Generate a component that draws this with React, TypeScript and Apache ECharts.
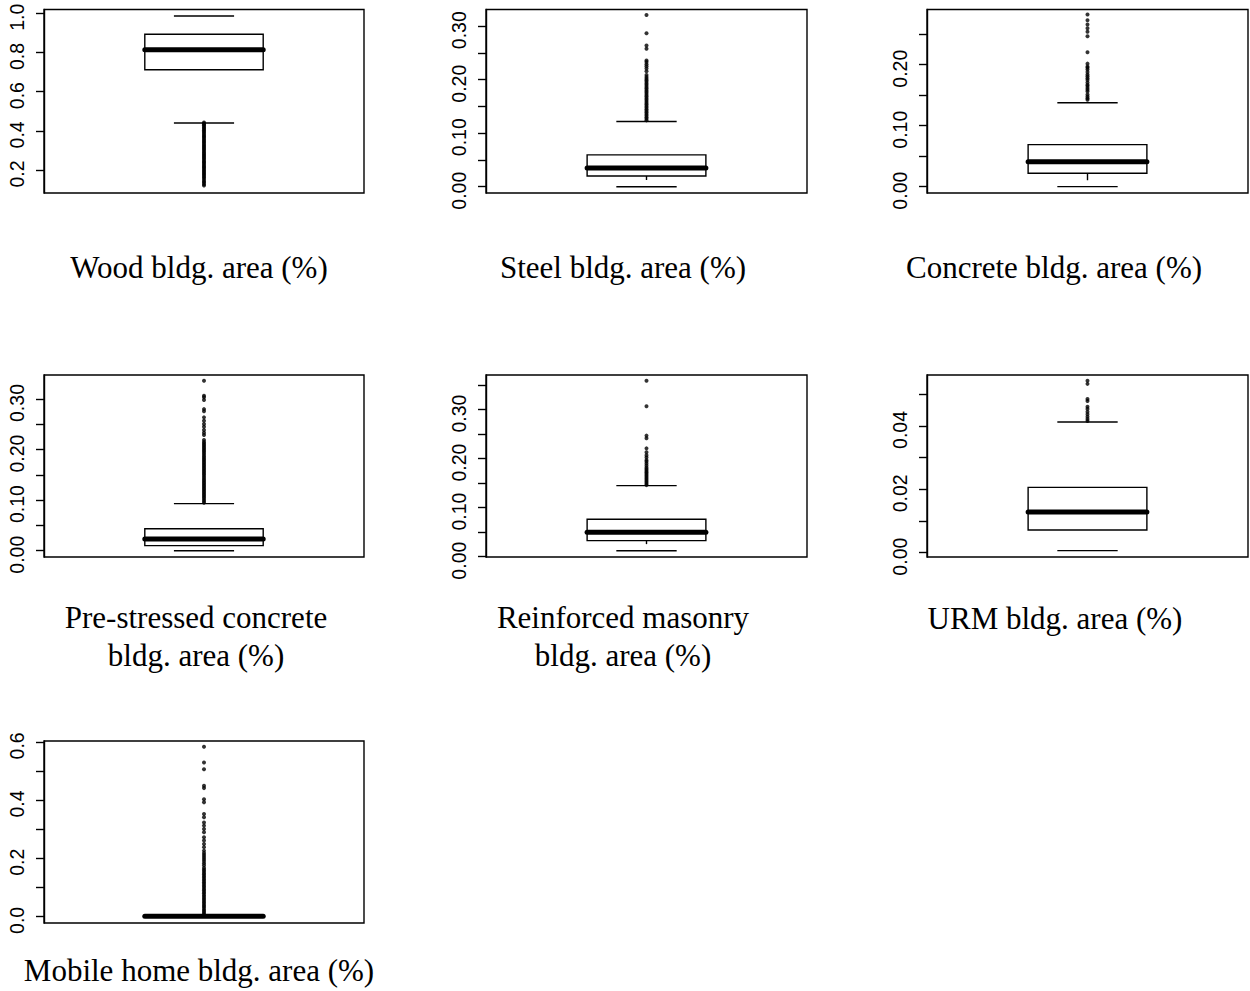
import React, { useEffect, useRef } from "react";
import * as echarts from "echarts";

// ---- Data ----
const panelTitles = [
  "Wood bldg. area (%)",
  "Steel bldg. area (%)",
  "Concrete bldg. area (%)",
  "Pre-stressed concrete\nbldg. area (%)",
  "Reinforced masonry\nbldg. area (%)",
  "URM bldg. area (%)",
  "Mobile home bldg. area (%)",
];

// [lower whisker, Q1, median, Q3, upper whisker]
const woodStats = [0.44, 0.712, 0.814, 0.893, 0.986];
const steelStats = [0.0, 0.02, 0.035, 0.0594, 0.122];
const concreteStats = [0.0, 0.022, 0.041, 0.069, 0.1377];
const prestressedStats = [0.0, 0.01, 0.023, 0.0435, 0.093];
const masonryStats = [0.0122, 0.0327, 0.0497, 0.0762, 0.1449];
const urmStats = [0.00063, 0.00716, 0.01284, 0.02063, 0.04126];
const mobileStats = [0.0, 0.0, 0.0, 0.0, 0.0];

const woodOutliers = [
  0.443, 0.438, 0.433, 0.428, 0.421, 0.416, 0.409, 0.403, 0.397, 0.391, 0.384, 0.378,
  0.371, 0.366, 0.359, 0.352, 0.346, 0.34, 0.333, 0.327, 0.32, 0.314, 0.307, 0.301,
  0.294, 0.287, 0.281, 0.274, 0.268, 0.261, 0.255, 0.248, 0.241, 0.236, 0.229, 0.222,
  0.216, 0.21, 0.203, 0.197, 0.19, 0.184, 0.177, 0.171, 0.164, 0.158, 0.15, 0.142,
  0.137, 0.128, 0.121,
];
const steelOutliers = [
  0.124, 0.127, 0.13, 0.133, 0.136, 0.139, 0.142, 0.145, 0.148, 0.151, 0.154, 0.157,
  0.16, 0.163, 0.166, 0.169, 0.172, 0.175, 0.178, 0.181, 0.184, 0.187, 0.19, 0.193,
  0.196, 0.199, 0.202, 0.205, 0.209, 0.216, 0.221, 0.225, 0.229, 0.233, 0.236, 0.258,
  0.264, 0.287, 0.321,
];
const concreteOutliers = [
  0.1425, 0.145, 0.148, 0.151, 0.156, 0.159, 0.162, 0.165, 0.167, 0.171, 0.175, 0.178,
  0.181, 0.184, 0.188, 0.192, 0.195, 0.197, 0.2018, 0.2204, 0.2467, 0.254, 0.26, 0.266,
  0.273, 0.2824,
];
const prestressedOutliers = [
  0.095, 0.098, 0.101, 0.104, 0.107, 0.11, 0.113, 0.116, 0.119, 0.122, 0.125, 0.128,
  0.131, 0.134, 0.137, 0.14, 0.143, 0.146, 0.149, 0.152, 0.155, 0.158, 0.161, 0.164,
  0.167, 0.17, 0.173, 0.176, 0.179, 0.182, 0.185, 0.188, 0.191, 0.194, 0.197, 0.2,
  0.203, 0.206, 0.209, 0.212, 0.215, 0.219, 0.2288, 0.2334, 0.2387, 0.245, 0.2505,
  0.257, 0.2637, 0.276, 0.28, 0.298, 0.3033, 0.3066, 0.336,
];
const masonryOutliers = [
  0.146, 0.149, 0.152, 0.155, 0.158, 0.161, 0.164, 0.167, 0.17, 0.173, 0.176, 0.179,
  0.182, 0.186, 0.19, 0.194, 0.197, 0.2025, 0.207, 0.2129, 0.221, 0.2415, 0.247,
  0.3068, 0.359,
];
const urmOutliers = [
  0.0416, 0.0422, 0.0429, 0.0437, 0.0445, 0.0454, 0.0461, 0.0479, 0.0485, 0.0533, 0.0543,
];
const mobileOutliers = [
  0.004, 0.009, 0.014, 0.019, 0.024, 0.03, 0.035, 0.04, 0.046, 0.051, 0.057, 0.062,
  0.068, 0.073, 0.079, 0.084, 0.09, 0.095, 0.101, 0.106, 0.112, 0.117, 0.123, 0.128,
  0.134, 0.139, 0.145, 0.15, 0.156, 0.161, 0.167, 0.176, 0.183, 0.19, 0.197, 0.204,
  0.211, 0.218, 0.226, 0.238, 0.249, 0.261, 0.272, 0.289, 0.3, 0.312, 0.323, 0.341,
  0.352, 0.392, 0.403, 0.441, 0.449, 0.506, 0.529, 0.583,
];

// y-axis ranges [min, max]
const woodRange = [0.083, 1.019];
const steelRange = [-0.0118, 0.3313];
const concreteRange = [-0.0104, 0.2906];
const prestressedRange = [-0.0125, 0.3475];
const masonryRange = [-0.0007, 0.3707];
const urmRange = [-0.00137, 0.0561];
const mobileRange = [-0.0229, 0.603];

// tick positions and labelled ticks
const woodTicks = [0.2, 0.4, 0.6, 0.8, 1.0];
const woodLabels = [0.2, 0.4, 0.6, 0.8, 1.0];
const steelTicks = [0, 0.05, 0.1, 0.15, 0.2, 0.25, 0.3];
const steelLabels = [0, 0.1, 0.2, 0.3];
const concreteTicks = [0, 0.05, 0.1, 0.15, 0.2, 0.25];
const concreteLabels = [0, 0.1, 0.2];
const prestressedTicks = [0, 0.05, 0.1, 0.15, 0.2, 0.25, 0.3];
const prestressedLabels = [0, 0.1, 0.2, 0.3];
const masonryTicks = [0, 0.05, 0.1, 0.15, 0.2, 0.25, 0.3, 0.35];
const masonryLabels = [0, 0.1, 0.2, 0.3];
const urmTicks = [0, 0.01, 0.02, 0.03, 0.04, 0.05];
const urmLabels = [0, 0.02, 0.04];
const mobileTicks = [0, 0.1, 0.2, 0.3, 0.4, 0.5, 0.6];
const mobileLabels = [0, 0.2, 0.4, 0.6];
const labelDecimals = [1, 2, 2, 2, 2, 2, 1];

// ---- Layout / style ----
const gridRects = [
  [44, 9.5, 320, 183.5],
  [486, 9.5, 321, 183.5],
  [927, 9.5, 321, 183.5],
  [44, 375, 320, 182],
  [486, 375, 321, 182],
  [927, 375, 321, 182],
  [44, 741, 320, 182],
];
const titlePositions = [
  [199, 267],
  [623, 267],
  [1054, 267],
  [196, 636],
  [623, 636],
  [1055, 618],
  [199, 970],
];
const lowerStubs = [0, 4, 7, 0, 3.5, 0, 0];

const statsList = [woodStats, steelStats, concreteStats, prestressedStats, masonryStats, urmStats, mobileStats];
const outlierList = [woodOutliers, steelOutliers, concreteOutliers, prestressedOutliers, masonryOutliers, urmOutliers, mobileOutliers];
const rangeList = [woodRange, steelRange, concreteRange, prestressedRange, masonryRange, urmRange, mobileRange];
const tickList = [woodTicks, steelTicks, concreteTicks, prestressedTicks, masonryTicks, urmTicks, mobileTicks];
const labelList = [woodLabels, steelLabels, concreteLabels, prestressedLabels, masonryLabels, urmLabels, mobileLabels];

const BOX_HALF = 0.185;
const CAP_HALF = 0.094;
const LW = 1.4;

export default function App() {
  const ref = useRef<HTMLDivElement>(null);

  useEffect(() => {
    if (!ref.current) return;
    const chart = echarts.init(ref.current, null, { renderer: "svg" });
    const grid: any[] = [];
    const xAxis: any[] = [];
    const yAxis: any[] = [];
    const series: any[] = [];
    const graphic: any[] = [];

    panelTitles.forEach((title, i) => {
      const r = gridRects[i];
      const dec = labelDecimals[i];
      const stub = lowerStubs[i];
      grid.push({
        left: r[0], top: r[1], width: r[2], height: r[3],
        show: true, borderColor: "#000", borderWidth: LW, backgroundColor: "transparent",
        containLabel: false,
      });
      xAxis.push({ type: "value", gridIndex: i, min: 0, max: 1, show: false });
      yAxis.push({
        type: "value", gridIndex: i, min: rangeList[i][0], max: rangeList[i][1],
        axisLine: { show: true, onZero: false, lineStyle: { color: "#000", width: LW } },
        axisTick: { show: true, inside: false, length: 8, customValues: tickList[i], lineStyle: { color: "#000", width: LW } },
        axisLabel: {
          show: true, customValues: labelList[i], rotate: 90, margin: 17, color: "#000",
          fontSize: 19.5, fontFamily: "'Liberation Sans Narrow', 'Liberation Sans', Arial, sans-serif",
          padding: [0, 8, 0, 0],
          formatter: (v: number) => Number(v).toFixed(dec),
        },
        splitLine: { show: false },
      });
      series.push({
        type: "scatter", xAxisIndex: i, yAxisIndex: i,
        data: outlierList[i].map((v) => [0.5, v]),
        symbol: "circle", symbolSize: 4, itemStyle: { color: "#000" }, z: 2, silent: true,
      });
      series.push({
        type: "custom", xAxisIndex: i, yAxisIndex: i, z: 3, silent: true,
        data: [[0.5, ...statsList[i]]],
        encode: { x: 0, y: [1, 2, 3, 4, 5] },
        renderItem: (params: any, api: any) => {
          const x = api.value(0);
          const pLo = api.coord([x, api.value(1)]);
          const pQ1 = api.coord([x, api.value(2)]);
          const pMed = api.coord([x, api.value(3)]);
          const pQ3 = api.coord([x, api.value(4)]);
          const pHi = api.coord([x, api.value(5)]);
          const hb = api.size([BOX_HALF, 0])[0];
          const hc = api.size([CAP_HALF, 0])[0];
          const cx = pMed[0];
          const line = { stroke: "#000", lineWidth: LW };
          const children: any[] = [
            { type: "rect", shape: { x: cx - hb, y: pQ3[1], width: 2 * hb, height: pQ1[1] - pQ3[1] }, style: { fill: "none", ...line } },
            { type: "line", shape: { x1: cx - hc, y1: pHi[1], x2: cx + hc, y2: pHi[1] }, style: line },
            { type: "line", shape: { x1: cx - hc, y1: pLo[1], x2: cx + hc, y2: pLo[1] }, style: line },
          ];
          if (stub > 0) {
            children.push({
              type: "line", shape: { x1: cx, y1: pQ1[1], x2: cx, y2: pLo[1] },
              style: { ...line, lineDash: [stub, 10000] },
            });
          }
          children.push({
            type: "line", shape: { x1: cx - hb, y1: pMed[1], x2: cx + hb, y2: pMed[1] },
            style: { stroke: "#000", lineWidth: 5, lineCap: "round" },
          });
          return { type: "group", children };
        },
      });
      graphic.push({
        type: "text", x: titlePositions[i][0], y: titlePositions[i][1],
        style: {
          text: title, align: "center", verticalAlign: "middle",
          fontSize: 31, lineHeight: 38, fontFamily: "'Liberation Serif', 'Times New Roman', serif",
          fill: "#000",
        },
      });
    });

    chart.setOption({
      animation: false,
      backgroundColor: "#fff",
      grid, xAxis, yAxis, series, graphic,
    });
    return () => chart.dispose();
  }, []);

  return (
    <div
      ref={ref}
      style={{ position: "absolute", left: 0, top: 0, width: 1250, height: 991 }}
    />
  );
}
